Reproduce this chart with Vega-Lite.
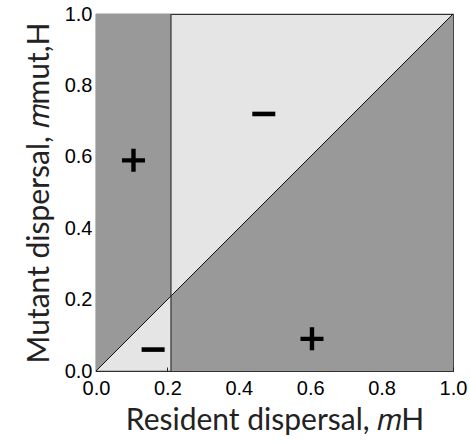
{
  "$schema": "https://vega.github.io/schema/vega-lite/v6.json",
  "autosize": "none",
  "width": 357,
  "height": 357,
  "padding": {"left": 96, "top": 14, "right": 17, "bottom": 72},
  "background": "white",
  "config": {
    "view": {"stroke": "#333333", "strokeWidth": 1.2, "fill": "#e5e5e5"},
    "axis": {
      "domain": false,
      "grid": false,
      "tickSize": -4,
      "tickColor": "#222222",
      "labelFont": "Liberation Sans",
      "labelFontSize": 20,
      "labelColor": "#000000",
      "titleFont": "Lato",
      "titleFontSize": 30,
      "titleFontWeight": "normal",
      "titleColor": "#222222"
    }
  },
  "datasets": {
    "leftStrip": [{"x": 0, "lo": 0, "hi": 1}, {"x": 0.21, "lo": 0.21, "hi": 1}],
    "lowerRight": [{"x": 0.21, "lo": 0, "hi": 0.21}, {"x": 1, "lo": 0, "hi": 1}],
    "diag": [{"x": 0, "y": 0}, {"x": 1, "y": 1}],
    "signs": [
      {"x": 0.105, "y": 0.59, "sign": "+"},
      {"x": 0.47, "y": 0.72, "sign": "−"},
      {"x": 0.16, "y": 0.06, "sign": "−"},
      {"x": 0.605, "y": 0.09, "sign": "+"}
    ]
  },
  "layer": [
    {
      "data": {"name": "leftStrip"},
      "mark": {"type": "area", "color": "#999999", "opacity": 1},
      "encoding": {
        "x": {"field": "x", "type": "quantitative", "scale": {"domain": [0, 1], "nice": false},
          "axis": {"title": "Resident dispersal, 𝑚H", "values": [0,0.05,0.1,0.15,0.2,0.25,0.3,0.35,0.4,0.45,0.5,0.55,0.6,0.65,0.7,0.75,0.8,0.85,0.9,0.95,1],
            "labelExpr": "abs(datum.value*5 - round(datum.value*5)) < 0.001 ? format(datum.value, '.1f') : ''",
            "labelPadding": 11, "titlePadding": 7, "labelFlush": false}},
        "y": {"field": "lo", "type": "quantitative", "scale": {"domain": [0, 1], "nice": false},
          "axis": {"title": "Mutant dispersal, 𝑚mut,H", "values": [0,0.05,0.1,0.15,0.2,0.25,0.3,0.35,0.4,0.45,0.5,0.55,0.6,0.65,0.7,0.75,0.8,0.85,0.9,0.95,1],
            "labelExpr": "abs(datum.value*5 - round(datum.value*5)) < 0.001 ? format(datum.value, '.1f') : ''",
            "labelPadding": 8, "titlePadding": 10, "labelFlush": false}},
        "y2": {"field": "hi"}
      }
    },
    {
      "data": {"name": "lowerRight"},
      "mark": {"type": "area", "color": "#999999", "opacity": 1},
      "encoding": {
        "x": {"field": "x", "type": "quantitative"},
        "y": {"field": "lo", "type": "quantitative"},
        "y2": {"field": "hi"}
      }
    },
    {
      "data": {"name": "diag"},
      "mark": {"type": "line", "color": "#111111", "strokeWidth": 1},
      "encoding": {
        "x": {"field": "x", "type": "quantitative"},
        "y": {"field": "y", "type": "quantitative"}
      }
    },
    {
      "data": {"values": [{"x": 0.21}]},
      "mark": {"type": "rule", "color": "#333333", "strokeWidth": 1.2},
      "encoding": {
        "x": {"field": "x", "type": "quantitative"}
      }
    },
    {
      "data": {"name": "signs"},
      "mark": {"type": "point", "filled": true, "color": "#000000", "opacity": 1, "size": 529},
      "encoding": {
        "x": {"field": "x", "type": "quantitative"},
        "y": {"field": "y", "type": "quantitative"},
        "shape": {"field": "sign", "type": "nominal", "legend": null,
          "scale": {"domain": ["+", "−"], "range": ["M-1,-0.19H-0.19V-1H0.19V-0.19H1V0.19H0.19V1H-0.19V0.19H-1Z", "M-1,-0.2H1V0.2H-1Z"]}}
      }
    }
  ]
}
